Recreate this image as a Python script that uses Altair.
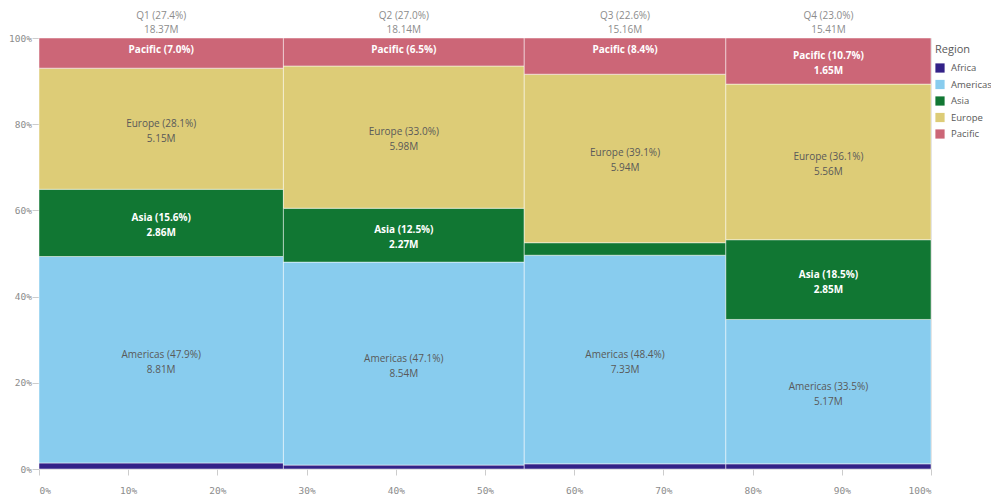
import altair as alt
import pandas as pd

quarters = ["Q1", "Q2", "Q3", "Q4"]
quarter_totals = [18.37, 18.14, 15.16, 15.41]  # M
quarter_share = [27.4, 27.0, 22.6, 23.0]  # % of year
regions = ["Africa", "Americas", "Asia", "Europe", "Pacific"]
colors = ["#332288", "#88CCEE", "#117733", "#DDCC77", "#CC6677"]

pct_q1 = [1.4, 47.9, 15.6, 28.1, 7.0]
pct_q2 = [0.9, 47.1, 12.5, 33.0, 6.5]
pct_q3 = [1.2, 48.4, 2.9, 39.1, 8.4]
pct_q4 = [1.2, 33.5, 18.5, 36.1, 10.7]
val_q1 = [0.26, 8.81, 2.86, 5.15, 1.29]
val_q2 = [0.16, 8.54, 2.27, 5.98, 1.18]
val_q3 = [0.18, 7.33, 0.44, 5.94, 1.27]
val_q4 = [0.18, 5.17, 2.85, 5.56, 1.65]
pcts = [pct_q1, pct_q2, pct_q3, pct_q4]
vals = [val_q1, val_q2, val_q3, val_q4]
light_text = ["Asia", "Pacific", "Africa"]

rows = []
heads = []
xc = 0.0
for qi, q in enumerate(quarters):
    x0 = xc / 100
    xc += quarter_share[qi]
    x1 = xc / 100
    heads.append({"xm": (x0 + x1) / 2,
                  "l1": f"{q} ({quarter_share[qi]:.1f}%)",
                  "l2": f"{quarter_totals[qi]:.2f}M"})
    yc = 0.0
    for ri, r in enumerate(regions):
        p = pcts[qi][ri]
        y0 = yc / 100
        yc += p
        y1 = yc / 100
        mode = "two" if p >= 10 else ("one" if p >= 5 else "none")
        rows.append({"Quarter": q, "Region": r, "x0": x0, "x1": x1, "y0": y0, "y1": y1,
                     "xm": (x0 + x1) / 2, "ym": (y0 + y1) / 2,
                     "l1": f"{r} ({p:.1f}%)", "l2": f"{vals[qi][ri]:.2f}M",
                     "mode": mode,
                     "style": "light" if r in light_text else "dark"})

df = pd.DataFrame(rows)
hd = pd.DataFrame(heads)

FONT = "Open Sans"
AXFONT = "DejaVu Sans Mono"
GRAY = "#8c8c8c"

xscale = alt.Scale(domain=[0, 1], nice=False, zero=False)
yscale = alt.Scale(domain=[0, 1], nice=False, zero=False)

base = alt.Chart(df)

rects = base.mark_rect(stroke="white", strokeWidth=0.8, strokeOpacity=0.6).encode(
    x=alt.X("x0:Q", scale=xscale,
            axis=alt.Axis(values=[i / 10 for i in range(11)], format=".0%", title=None,
                          grid=False, domain=False, tickColor="#cccccc", tickSize=6,
                          labelPadding=10, labelColor=GRAY, labelFont=AXFONT,
                          labelFontSize=9.5)),
    x2="x1:Q",
    y=alt.Y("y0:Q", scale=yscale,
            axis=alt.Axis(values=[0, 0.2, 0.4, 0.6, 0.8, 1.0], format=".0%", title=None,
                          grid=False, domain=False, tickColor="#cccccc", tickSize=7,
                          labelPadding=0.5, labelColor=GRAY, labelFont=AXFONT,
                          labelFontSize=9.5)),
    y2="y1:Q",
    color=alt.Color("Region:N", scale=alt.Scale(domain=regions, range=colors),
                    legend=alt.Legend(title="Region", orient="none", legendX=896,
                                      legendY=6, symbolType="square", symbolSize=85,
                                      symbolStrokeWidth=0, titleFont=FONT,
                                      titleFontSize=11, titleFontWeight="normal",
                                      titleColor="#595959", labelFont=FONT,
                                      labelFontSize=9.5, labelColor="#595959",
                                      rowPadding=6.5, titlePadding=8, padding=0,
                                      labelOffset=6)),
)


def seg_text(mode, field, style, ypos, dy):
    col = "white" if style == "light" else "#595959"
    fw = "bold" if style == "light" else "normal"
    return base.transform_filter(
        f"datum.mode == '{mode}' && datum.style == '{style}'"
    ).mark_text(font=FONT, fontSize=10, color=col, fontWeight=fw, dy=dy,
                baseline="alphabetic").encode(
        x=alt.X("xm:Q", scale=xscale),
        y=alt.Y(f"{ypos}:Q", scale=yscale),
        text=f"{field}:N",
    )


layers = [rects]
for st in ["light", "dark"]:
    layers.append(seg_text("two", "l1", st, "ym", -2))
    layers.append(seg_text("two", "l2", st, "ym", 13))
    layers.append(seg_text("one", "l1", st, "y1", 15))

hbase = alt.Chart(hd)
h1 = hbase.mark_text(font=FONT, fontSize=10, color=GRAY, baseline="alphabetic").encode(
    x=alt.X("xm:Q", scale=xscale), y=alt.value(-19), text="l1:N")
h2 = hbase.mark_text(font=FONT, fontSize=10, color=GRAY, baseline="alphabetic").encode(
    x=alt.X("xm:Q", scale=xscale), y=alt.value(-5), text="l2:N")
layers += [h1, h2]

chart = alt.layer(*layers).properties(
    width=892, height=431,
    autosize=alt.AutoSizeParams(type="none"),
    padding={"left": 31, "top": 30, "right": 60, "bottom": 29},
).configure_view(stroke=None).configure(background="white")

chart.save("out.html", embed_options={"renderer": "svg", "actions": False})
